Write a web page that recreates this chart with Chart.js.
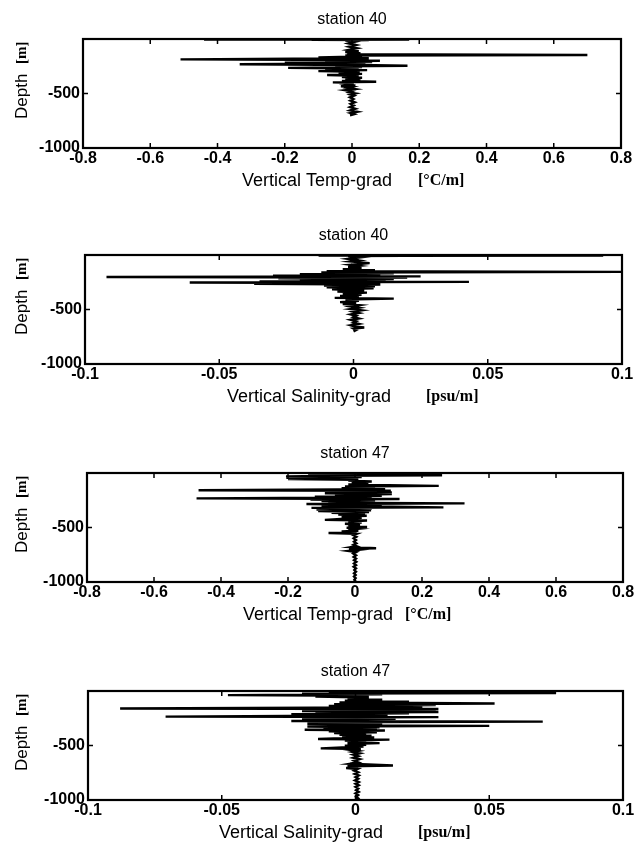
<!DOCTYPE html>
<html><head><meta charset="utf-8">
<script src="https://cdn.jsdelivr.net/npm/chart.js@4.4.1/dist/chart.umd.min.js"></script>
<style>
html,body{margin:0;padding:0;background:#fff;width:636px;height:847px;overflow:hidden;position:relative}
canvas{position:absolute;left:0}
</style></head><body>
<canvas id="c1" width="636" height="217" style="top:0px"></canvas>
<canvas id="c2" width="636" height="217" style="top:216px"></canvas>
<canvas id="c3" width="636" height="217" style="top:434px"></canvas>
<canvas id="c4" width="636" height="217" style="top:652px"></canvas>
<script>
// ---- tick values and labels ----
const tempTicks = [-0.8,-0.6,-0.4,-0.2,0,0.2,0.4,0.6,0.8];
const tempTickLabels = ['-0.8','-0.6','-0.4','-0.2','0','0.2','0.4','0.6','0.8'];
const salTicks = [-0.1,-0.05,0,0.05,0.1];
const salTickLabels = ['-0.1','-0.05','0','0.05','0.1'];
const depthTicks = [-1000,-500];
const depthTickLabels = ['-1000','-500'];

// ---- station 40, vertical temperature gradient [°C/m] ----
const depth40T = [-2,-4,-6,-8,-10,-14,-25,-40,-55,-70,-85,-100,-112,-120,-130,-140,-147,-152,-160,-170,-176,-187,-192,-200,-205,-212,-218,-224,-232,-238,-245,-250,-258,-265,-270,-280,-286,-295,-302,-312,-320,-330,-338,-348,-356,-365,-375,-385,-392,-398,-405,-415,-425,-433,-440,-450,-460,-470,-480,-490,-500,-510,-520,-535,-550,-565,-580,-595,-610,-625,-640,-655,-668,-680,-690,-700];
const tempGrad40 = [0.0,-0.44,0.17,-0.12,0.05,-0.02,0.01,-0.01,0.012,-0.008,0.015,-0.01,0.02,-0.02,0.025,-0.015,0.70,-0.02,0.03,-0.1,0.05,-0.51,0.02,0.083,-0.08,0.06,-0.2,0.04,-0.334,0.02,0.165,-0.05,0.03,-0.19,0.02,-0.08,0.045,-0.1,0.023,-0.04,0.03,-0.074,0.02,-0.03,0.03,-0.02,0.025,-0.03,0.072,-0.057,0.005,-0.015,0.01,-0.033,0.0,-0.012,0.008,-0.02,0.0,-0.008,0.01,-0.004,0.006,-0.006,0.004,-0.005,0.008,-0.004,0.005,-0.006,0.01,-0.005,0.016,-0.004,0.006,-0.006];

// ---- station 40, vertical salinity gradient [psu/m] ----
const depth40S = [-2,-4,-5,-7,-10,-20,-35,-50,-60,-75,-90,-100,-110,-120,-130,-140,-148,-155,-160,-168,-175,-183,-190,-196,-202,-207,-213,-220,-228,-235,-242,-247,-252,-257,-265,-272,-280,-288,-296,-305,-315,-325,-335,-345,-355,-365,-375,-385,-393,-400,-408,-420,-432,-442,-450,-460,-472,-484,-496,-508,-520,-532,-545,-558,-570,-582,-595,-608,-620,-632,-645,-658,-665,-675,-688,-700];
const salGrad40 = [0.0,-0.013,0.093,0.019,-0.002,0.003,-0.002,0.002,-0.001,0.006,-0.001,0.002,-0.002,0.003,-0.004,0.008,-0.01,0.105,-0.012,0.015,-0.02,0.01,-0.03,0.025,-0.092,0.02,-0.028,0.015,-0.02,0.012,-0.035,0.043,-0.061,0.01,-0.037,0.01,-0.011,0.008,-0.01,0.0075,-0.008,0.004,-0.006,0.005,-0.004,0.003,-0.005,0.002,-0.007,0.015,-0.003,0.002,-0.005,0.001,-0.004,0.002,-0.001,0.002,-0.001,0.003,0.0,0.002,-0.001,0.001,0.0,0.002,-0.001,0.001,0.0,0.002,-0.001,0.001,0.004,0.0,0.001,0.0];

// ---- station 47, vertical temperature gradient [°C/m] ----
const depth47T = [-2,-4,-6,-10,-14,-20,-26,-32,-38,-44,-50,-56,-62,-70,-78,-86,-95,-105,-112,-118,-124,-132,-140,-148,-158,-163,-170,-178,-186,-194,-202,-210,-218,-225,-233,-238,-244,-250,-258,-265,-272,-279,-285,-292,-300,-308,-315,-320,-327,-335,-342,-350,-358,-366,-374,-382,-392,-400,-410,-420,-430,-436,-445,-455,-465,-475,-485,-495,-502,-512,-522,-530,-536,-545,-551,-558,-570,-585,-600,-615,-630,-645,-660,-672,-680,-690,-696,-705,-715,-725,-740,-755,-770,-785,-800,-815,-830,-845,-860,-875,-890,-905,-920,-935,-950,-965,-980,-995,-1000];
const tempGrad47 = [0.0,0.26,-0.14,0.2,-0.05,0.26,-0.1,-0.206,0.02,-0.205,-0.02,-0.2,0.01,-0.02,0.05,-0.01,0.04,-0.02,0.1,0.25,-0.03,0.06,-0.04,0.09,-0.467,0.107,-0.05,0.11,-0.09,0.11,-0.06,0.08,-0.12,0.05,-0.473,0.133,-0.133,0.06,-0.1,0.05,-0.08,0.327,-0.145,0.08,-0.1,0.06,0.264,-0.13,0.05,-0.115,0.048,-0.11,0.042,-0.07,0.03,-0.05,0.035,-0.04,0.02,-0.03,-0.09,0.036,-0.02,0.02,-0.03,0.015,-0.02,0.036,-0.025,0.01,-0.02,0.01,-0.04,0.005,-0.079,0.005,-0.005,0.004,-0.004,0.003,-0.003,0.004,-0.005,0.005,-0.01,0.063,-0.018,0.01,-0.02,0.004,-0.005,0.003,-0.004,0.003,-0.003,0.004,-0.003,0.003,-0.004,0.003,-0.002,0.003,-0.003,0.002,-0.003,0.002,-0.002,0.002,0.0];

// ---- station 47, vertical salinity gradient [psu/m] ----
const depth47S = [-2,-5,-8,-12,-18,-24,-30,-38,-44,-52,-60,-70,-80,-90,-98,-106,-115,-122,-130,-138,-146,-153,-160,-165,-172,-178,-185,-192,-198,-205,-212,-220,-228,-235,-240,-247,-254,-262,-268,-275,-281,-288,-296,-303,-310,-316,-320,-326,-333,-340,-348,-355,-362,-370,-378,-386,-394,-402,-410,-418,-426,-434,-441,-446,-455,-462,-470,-478,-486,-494,-502,-510,-518,-526,-532,-540,-550,-560,-572,-585,-598,-612,-625,-640,-655,-668,-676,-683,-690,-698,-706,-715,-730,-745,-760,-775,-790,-805,-820,-835,-850,-865,-880,-895,-910,-925,-940,-955,-970,-985,-1000];
const salGrad47 = [0.0,0.02,-0.01,0.04,0.075,-0.02,0.01,-0.0477,0.005,-0.015,0.005,-0.003,0.01,-0.004,0.02,-0.006,0.052,-0.008,0.03,-0.01,0.025,-0.015,-0.088,0.031,-0.012,0.03,-0.02,0.031,-0.015,0.02,-0.024,0.012,-0.025,-0.071,0.031,-0.015,0.015,-0.02,0.01,-0.024,0.07,-0.018,0.01,-0.018,0.008,-0.015,0.05,-0.018,0.009,-0.012,0.008,-0.019,0.011,-0.01,0.008,-0.008,0.004,-0.006,0.006,-0.005,0.007,-0.005,-0.014,0.0127,-0.004,0.004,-0.003,0.009,-0.003,0.004,-0.004,0.003,-0.005,-0.013,0.002,-0.002,0.001,-0.001,0.0015,-0.0008,0.001,-0.0008,0.0015,-0.0005,0.001,-0.002,0.007,0.014,-0.003,0.001,-0.0035,0.0008,-0.0005,0.001,-0.0003,0.0012,0.0,0.001,-0.0002,0.0012,0.0,0.0012,0.0,0.001,0.0002,0.0012,0.0,0.001,0.0002,0.001,0.0];

const W = 636, H = 217;
const SANS = '"Liberation Sans", Arial, sans-serif';
const SERIF = '"Liberation Serif", "Times New Roman", serif';

const panels = [
  {id:'c1', title:'station 40', depths:depth40T, values:tempGrad40, xMin:-0.8, xMax:0.8, xTicks:tempTicks, xLabels:tempTickLabels,
   left:83, right:621, top:39, bottom:148, xName:'Vertical Temp-grad', xNameX:242, xUnit:'[°C/m]', xUnitX:418},
  {id:'c2', title:'station 40', depths:depth40S, values:salGrad40, xMin:-0.1, xMax:0.1, xTicks:salTicks, xLabels:salTickLabels,
   left:85, right:622, top:39, bottom:148, xName:'Vertical Salinity-grad', xNameX:227, xUnit:'[psu/m]', xUnitX:426},
  {id:'c3', title:'station 47', depths:depth47T, values:tempGrad47, xMin:-0.8, xMax:0.8, xTicks:tempTicks, xLabels:tempTickLabels,
   left:87, right:623, top:39, bottom:148, xName:'Vertical Temp-grad', xNameX:243, xUnit:'[°C/m]', xUnitX:405},
  {id:'c4', title:'station 47', depths:depth47S, values:salGrad47, xMin:-0.1, xMax:0.1, xTicks:salTicks, xLabels:salTickLabels,
   left:88, right:623, top:39, bottom:148, xName:'Vertical Salinity-grad', xNameX:219, xUnit:'[psu/m]', xUnitX:418}
];

function framePlugin(cfg){
  return {
    id:'frame'+cfg.id,
    afterDraw(chart){
      const ctx = chart.ctx, a = chart.chartArea, x = chart.scales.x, y = chart.scales.y;
      const line = (x1,y1,x2,y2)=>{ctx.beginPath();ctx.moveTo(x1,y1);ctx.lineTo(x2,y2);ctx.stroke();};
      ctx.save();
      ctx.strokeStyle = '#000';
      ctx.lineWidth = 2.2;
      ctx.strokeRect(a.left, a.top, a.right - a.left, a.bottom - a.top);
      ctx.lineWidth = 1.5;
      x.ticks.forEach(t=>{ const px = x.getPixelForValue(t.value); line(px,a.bottom,px,a.bottom-5); line(px,a.top,px,a.top+5); });
      y.ticks.forEach(t=>{ const py = y.getPixelForValue(t.value); line(a.left,py,a.left+5,py); line(a.right,py,a.right-5,py); });
      ctx.fillStyle = '#000';
      ctx.textBaseline = 'middle';
      ctx.textAlign = 'center';
      ctx.font = '16px ' + SANS;
      ctx.fillText(cfg.title, (a.left + a.right)/2, a.top - 19);
      ctx.textAlign = 'left';
      ctx.font = '18px ' + SANS;
      ctx.fillText(cfg.xName, cfg.xNameX, a.bottom + 33);
      ctx.font = 'bold 16px ' + SERIF;
      ctx.fillText(cfg.xUnit, cfg.xUnitX, a.bottom + 33);
      ctx.translate(22, a.top + 80);
      ctx.rotate(-Math.PI/2);
      ctx.font = '17px ' + SANS;
      ctx.fillText('Depth', 0, 0);
      ctx.font = 'bold 15px ' + SERIF;
      ctx.fillText('[m]', 55, 0);
      ctx.restore();
    }
  };
}

panels.forEach(cfg=>{
  const pts = cfg.depths.map((d,i)=>({x:cfg.values[i], y:d}));
  new Chart(document.getElementById(cfg.id), {
    type:'scatter',
    data:{datasets:[{data:pts, showLine:true, borderColor:'#000', backgroundColor:'#000', borderWidth:2.4,
      pointRadius:0, pointHoverRadius:0, tension:0, fill:false}]},
    options:{
      responsive:false, animation:false, events:[],
      layout:{padding:{top:cfg.top, right:W - cfg.right, left:0, bottom:0}},
      plugins:{legend:{display:false}, title:{display:false}, tooltip:{enabled:false}},
      scales:{
        x:{type:'linear', min:cfg.xMin, max:cfg.xMax,
          grid:{display:false, drawTicks:false}, border:{display:false},
          afterBuildTicks:s=>{ s.ticks = cfg.xTicks.map(v=>({value:v})); },
          afterFit:s=>{ s.height = H - cfg.bottom; },
          ticks:{padding:1, color:'#000', maxRotation:0, autoSkip:false, font:{family:SANS, size:16, weight:'bold'},
            callback:(v,i)=>cfg.xLabels[i]}},
        y:{type:'linear', min:-1000, max:0,
          grid:{display:false, drawTicks:false}, border:{display:false},
          afterBuildTicks:s=>{ s.ticks = depthTicks.map(v=>({value:v})); },
          afterFit:s=>{ s.width = cfg.left; },
          ticks:{padding:3, color:'#000', autoSkip:false, font:{family:SANS, size:16, weight:'bold'},
            callback:(v,i)=>depthTickLabels[i]}}
      }
    },
    plugins:[framePlugin(cfg)]
  });
});
</script>
</body></html>
